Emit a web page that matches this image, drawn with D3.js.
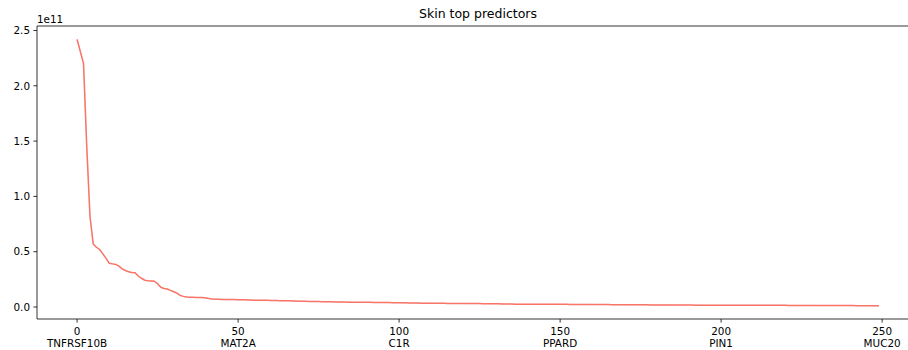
<!DOCTYPE html>
<html>
<head>
<meta charset="utf-8">
<script src="https://cdn.jsdelivr.net/npm/d3@7"></script>
<style>
body { margin: 0; background: #fff; }
text { font-family: "DejaVu Sans", sans-serif; fill: #000; }
</style>
</head>
<body>
<script>
// scores, in units of 1e11, ranked
var scores = [
  2.42, 2.31, 2.20, 1.45, 0.82, 0.57, 0.54, 0.52, 0.48, 0.44,
  0.395, 0.39, 0.385, 0.37, 0.345, 0.33, 0.318, 0.312, 0.31, 0.28,
  0.26, 0.242, 0.238, 0.236, 0.233, 0.21, 0.178, 0.168, 0.163, 0.15,
  0.138, 0.125, 0.105, 0.096, 0.091, 0.089, 0.088, 0.087, 0.086, 0.085,
  0.082, 0.077, 0.073, 0.071, 0.070, 0.069, 0.068, 0.068, 0.067, 0.067,
  0.066, 0.065, 0.065, 0.064, 0.063, 0.062, 0.061, 0.061, 0.060, 0.060,
  0.059, 0.058, 0.058, 0.057, 0.057, 0.056, 0.056, 0.055, 0.054, 0.053,
  0.052, 0.051, 0.050, 0.050, 0.049, 0.049, 0.048, 0.048, 0.047, 0.047,
  0.046, 0.046, 0.045, 0.045, 0.044, 0.044, 0.043, 0.043, 0.043, 0.042,
  0.042, 0.042, 0.041, 0.041, 0.041, 0.040, 0.040, 0.040, 0.039, 0.039,
  0.039, 0.038, 0.038, 0.037, 0.037, 0.036, 0.036, 0.035, 0.035, 0.034,
  0.034, 0.033, 0.033, 0.033, 0.033, 0.032, 0.032, 0.032, 0.032, 0.032,
  0.032, 0.031, 0.031, 0.031, 0.031, 0.031, 0.030, 0.030, 0.030, 0.029,
  0.029, 0.029, 0.028, 0.028, 0.027, 0.027, 0.026, 0.026, 0.025, 0.025,
  0.025, 0.025, 0.025, 0.024, 0.024, 0.024, 0.024, 0.024, 0.024, 0.024,
  0.024, 0.024, 0.024, 0.023, 0.023, 0.023, 0.023, 0.023, 0.023, 0.023,
  0.022, 0.022, 0.022, 0.022, 0.022, 0.022, 0.021, 0.021, 0.021, 0.021,
  0.021, 0.021, 0.020, 0.020, 0.020, 0.020, 0.020, 0.020, 0.019, 0.019,
  0.019, 0.019, 0.019, 0.019, 0.019, 0.018, 0.018, 0.018, 0.018, 0.018,
  0.018, 0.018, 0.017, 0.017, 0.017, 0.017, 0.017, 0.017, 0.017, 0.017,
  0.017, 0.016, 0.016, 0.016, 0.016, 0.016, 0.016, 0.016, 0.016, 0.016,
  0.015, 0.015, 0.015, 0.015, 0.015, 0.015, 0.015, 0.015, 0.015, 0.015,
  0.015, 0.014, 0.014, 0.014, 0.014, 0.014, 0.014, 0.014, 0.014, 0.014,
  0.014, 0.013, 0.013, 0.013, 0.013, 0.013, 0.013, 0.013, 0.013, 0.013,
  0.013, 0.013, 0.012, 0.012, 0.012, 0.012, 0.012, 0.012, 0.012, 0.012
];
var xTicks = [0, 50, 100, 150, 200, 250];
var xTickGenes = ["TNFRSF10B", "MAT2A", "C1R", "PPARD", "PIN1", "MUC20"];
var yTicks = [0, 0.5, 1.0, 1.5, 2.0, 2.5];
var title = "Skin top predictors";

var width = 908, height = 350;
var plotLeft = 37, plotRight = 919, plotTop = 26, plotBottom = 319;

var svg = d3.select("body").append("svg")
    .attr("width", width)
    .attr("height", height);

// matplotlib style 5% margins
var n = scores.length - 1;
var xMin = 0 - 0.05 * n, xMax = n + 0.05 * n;
var yLo = d3.min(scores), yHi = d3.max(scores), yr = yHi - yLo;
var x = d3.scaleLinear().domain([xMin, xMax]).range([plotLeft, plotRight]);
var y = d3.scaleLinear().domain([yLo - 0.05 * yr, yHi + 0.05 * yr]).range([plotBottom, plotTop]);

var line = d3.line()
    .x(function (d, i) { return x(i); })
    .y(function (d) { return y(d); });

svg.append("path")
    .datum(scores)
    .attr("d", line)
    .attr("fill", "none")
    .attr("stroke", "#f8716f")
    .attr("stroke-width", 1.5);
svg.append("path")
    .datum(scores)
    .attr("d", line)
    .attr("fill", "none")
    .attr("stroke", "#ff8c3a")
    .attr("stroke-opacity", 0.18)
    .attr("stroke-width", 1.2);

// spines: left, top, bottom
svg.append("line").attr("x1", plotLeft).attr("x2", plotLeft).attr("y1", plotTop).attr("y2", plotBottom)
    .attr("stroke", "#000").attr("stroke-width", 0.8);
svg.append("line").attr("x1", plotLeft).attr("x2", plotRight).attr("y1", plotTop).attr("y2", plotTop)
    .attr("stroke", "#000").attr("stroke-width", 0.8);
svg.append("line").attr("x1", plotLeft).attr("x2", plotRight).attr("y1", plotBottom).attr("y2", plotBottom)
    .attr("stroke", "#000").attr("stroke-width", 0.8);

// x axis
var xAxis = svg.append("g");
xTicks.forEach(function (t, i) {
    var px = x(t);
    xAxis.append("line").attr("x1", px).attr("x2", px).attr("y1", plotBottom).attr("y2", plotBottom + 3.6)
        .attr("stroke", "#000").attr("stroke-width", 0.8);
    xAxis.append("text").attr("x", px).attr("y", plotBottom + 16)
        .attr("text-anchor", "middle").attr("font-size", 10.4).text(t);
    xAxis.append("text").attr("x", px).attr("y", plotBottom + 28)
        .attr("text-anchor", "middle").attr("font-size", 10.4).text(xTickGenes[i]);
});

// y axis
var yAxis = svg.append("g");
yTicks.forEach(function (t) {
    var py = y(t);
    yAxis.append("line").attr("x1", plotLeft - 3.6).attr("x2", plotLeft).attr("y1", py).attr("y2", py)
        .attr("stroke", "#000").attr("stroke-width", 0.8);
    yAxis.append("text").attr("x", plotLeft - 7).attr("y", py).attr("dy", "0.36em")
        .attr("text-anchor", "end").attr("font-size", 10.4).text(t.toFixed(1));
});
svg.append("text").attr("x", plotLeft).attr("y", plotTop - 3.5)
    .attr("font-size", 10.4).text("1e11");

svg.append("text").attr("x", (plotLeft + plotRight) / 2).attr("y", plotTop - 8)
    .attr("text-anchor", "middle").attr("font-size", 12.5).text(title);
</script>
</body>
</html>
